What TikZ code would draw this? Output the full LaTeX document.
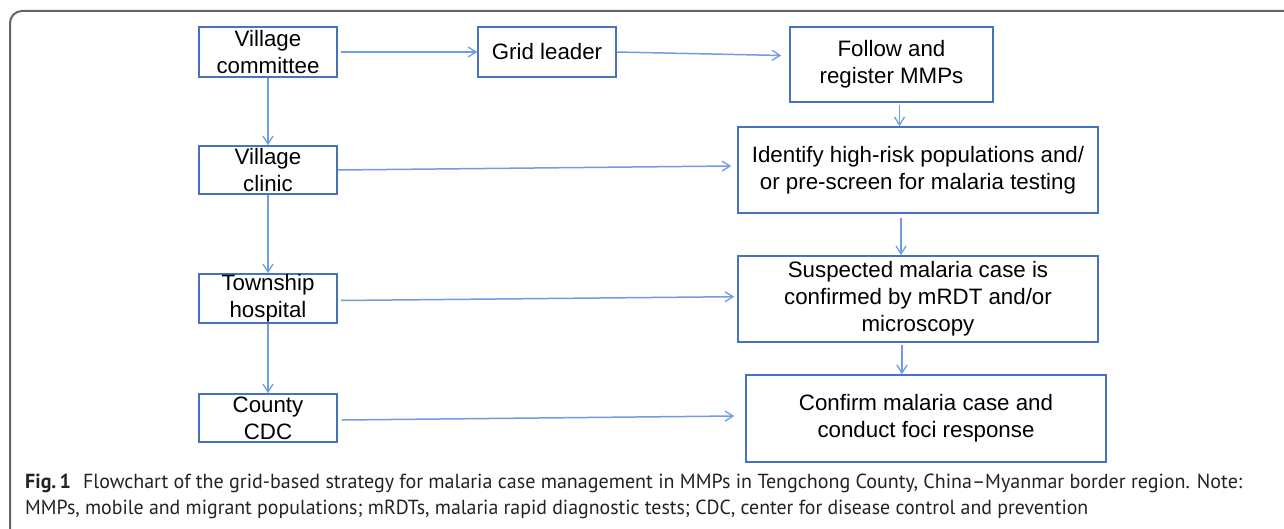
\documentclass[tikz,border=0pt]{standalone}
\usepackage{fontspec}
\setmainfont{Liberation Sans}
\newfontfamily\capfont{PT Sans}
\usetikzlibrary{arrows.meta}
\definecolor{boxblue}{RGB}{72,114,190}
\definecolor{arrblue}{RGB}{112,156,230}
\definecolor{framegray}{RGB}{100,100,100}
\definecolor{captext}{RGB}{35,35,35}
\tikzset{
  box/.style={draw=boxblue, line width=1.6pt, inner sep=0pt, align=center,
    font=\fontsize{22.3}{26.8}\selectfont},
  arr/.style={draw=arrblue, line width=1.5pt, -{Straight Barb[length=8pt,width=10pt,line width=1.3pt]}},
  capline/.style={anchor=base west, inner sep=0pt, text=captext}
}
\begin{document}
\begin{tikzpicture}[x=1pt,y=-1pt]
\useasboundingbox (0,0) rectangle (1284,529);
\clip (0,0) rectangle (1284,529);
\fill[white] (0,0) rectangle (1284,529);
\draw[framegray, line width=2pt, rounded corners=12pt] (10,560) -- (10,11) -- (1310,11);

% left column
\node[box, minimum width=138pt, minimum height=50pt] (vc) at (268,52) {Village\\committee};
\node[box, minimum width=138pt, minimum height=48pt] (clinic) at (268,170) {Village\\clinic};
\node[box, minimum width=138pt, minimum height=49pt] (town) at (268,298.5) {Township\\hospital};
\node[box, minimum width=138pt, minimum height=48pt] (cdc) at (268,418) {County\\CDC};

% top / right
\node[box, minimum width=138pt, minimum height=50pt] (grid) at (547,52) {Grid leader};
\node[box, minimum width=203pt, minimum height=75pt] (follow) at (891.5,64.5) {Follow and\\register MMPs};
\node[box, minimum width=360pt, minimum height=86pt] (identify) at (918,170) {Identify high-risk populations and/\\or pre-screen for malaria testing};
\node[box, minimum width=360pt, minimum height=86pt] (susp) at (918,299) {Suspected malaria case is\\confirmed by mRDT and/or\\microscopy};
\node[box, minimum width=360pt, minimum height=87pt] (confirm) at (926,418.5) {Confirm malaria case and\\conduct foci response};

% vertical arrows left
\draw[arr] (vc.south) -- (clinic.north);
\draw[arr] (clinic.south) -- (town.north);
\draw[arr] (town.south) -- (cdc.north);

% top row
\draw[arr] ([xshift=3pt]vc.east) -- (grid.west);
\draw[arr] (grid.east) -- ([xshift=-8pt,yshift=9pt]follow.west);

% right column vertical
\draw[arr] ([xshift=8pt,yshift=-2pt]follow.south) -- ([xshift=8pt]follow.south |- identify.north);
\draw[arr] ([xshift=-17pt,yshift=-4pt]identify.south) -- ([xshift=-17pt]susp.north);
\draw[arr] ([xshift=-16pt,yshift=-2pt]susp.south) -- ([xshift=-16pt]susp.south |- confirm.north);

% horizontal arrows
\draw[arr] (clinic.east) -- ([xshift=-6pt,yshift=4pt]identify.west);
\draw[arr] ([xshift=3pt,yshift=-2pt]town.east) -- ([xshift=-3pt,yshift=2.3pt]susp.west);
\draw[arr] ([xshift=4pt,yshift=-2pt]cdc.east) -- ([xshift=-11pt,yshift=2.5pt]confirm.west);

% caption
\node[capline] (cap1) at (25,488) {\resizebox{1217pt}{14.5pt}{\capfont\fontsize{16}{19}\selectfont\textbf{Fig.\,1}\hspace{0.6em}Flowchart of the grid-based strategy for malaria case management in MMPs in Tengchong County, China–Myanmar border region. Note:}};
\node[capline] (cap2) at (25,514) {\resizebox{1063pt}{14.5pt}{\capfont\fontsize{16}{19}\selectfont MMPs, mobile and migrant populations; mRDTs, malaria rapid diagnostic tests; CDC, center for disease control and prevention}};
\end{tikzpicture}
\end{document}
